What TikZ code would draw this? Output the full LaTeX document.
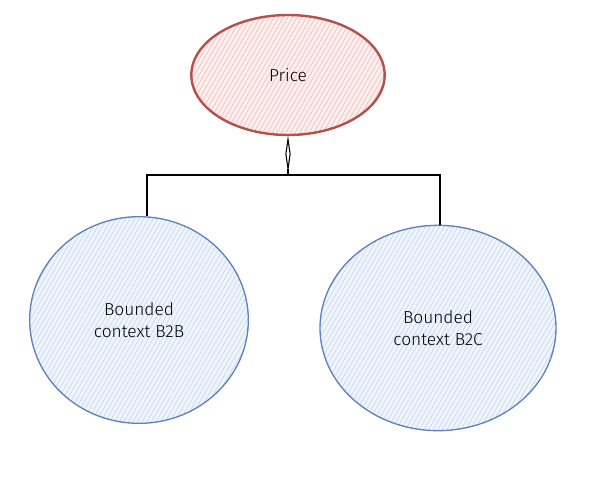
\documentclass[tikz,border=0pt]{standalone}
\usepackage{fontspec}
\setmainfont{Fira Sans Light}
\usepackage{tikz}
\usetikzlibrary{shapes.geometric, arrows.meta, patterns.meta}

\definecolor{pricered}{HTML}{B5504B}
\definecolor{pricefill}{HTML}{F4C2C0}
\definecolor{ctxblue}{HTML}{5F82BC}
\definecolor{ctxfill}{HTML}{C3D7F4}

\tikzset{
  blob/.style = {ellipse, align = center, font = \fontsize{13}{17}\selectfont},
  pricebox/.style = {blob, draw = pricered, line width = 1.8pt,
    preaction = {fill = pricefill!25},
    pattern = {Lines[angle = 60, distance = 3pt, line width = 0.6pt]}, pattern color = pricefill,
    minimum width = 145pt, minimum height = 90pt},
  ctxbox/.style = {blob, draw = ctxblue, line width = 1pt,
    preaction = {fill = ctxfill!25},
    pattern = {Lines[angle = 60, distance = 3pt, line width = 0.5pt]}, pattern color = ctxfill},
  link/.style = {draw = black, line width = 0.8pt}
}

\begin{document}
\begin{tikzpicture}[x = 0.75pt, y = -0.75pt]
\useasboundingbox (0,0) rectangle (600,476);
\node[pricebox] (price) at (288, 75) {Price};
\node[ctxbox, minimum width = 164pt, minimum height = 155pt] (btb) at (139, 320) {Bounded\\context B2B};
\node[ctxbox, minimum width = 177pt, minimum height = 154pt] (btc) at (438, 328) {Bounded\\context B2C};
\coordinate (fork) at (288, 175);
\draw[link, {Diamond[open, length = 28pt, width = 4pt]}-] (price.south) -- (fork);
\draw[link] (fork) -- (147, 175) coordinate (forkl) -- (btb.north -| forkl);
\draw[link] (fork) -- (440, 175) coordinate (forkr) -- (btc.north -| forkr);
\end{tikzpicture}
\end{document}
